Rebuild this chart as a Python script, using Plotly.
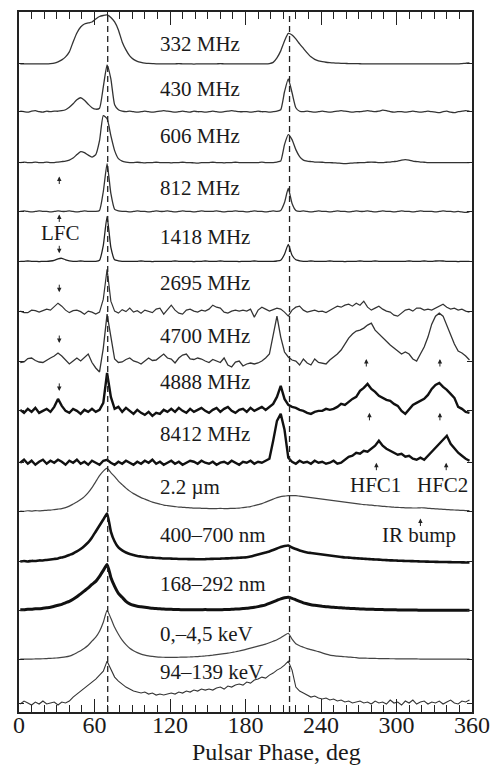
import plotly.graph_objects as go

# phase samples (deg)
phase = list(range(1, 360, 3))  # 1, 4, ..., 358  (120 samples)

# profile heights above each baseline (pixels of the original figure)
p332 = [0, 0, 0, 0, 0, 0, 0, 0, 0.3, 0.8,
        2, 4, 7, 12, 22, 31, 37, 40, 41, 42,
        45, 47.5, 48.5, 49, 46.5, 42, 34, 22, 14, 8,
        4.5, 2.5, 1.5, 0.8, 0.4, 0.2, 0, 0, 0, 0,
        0, 0, 0.2, 0, 0, 0, -0.2, 0, 0, 0,
        0, 0, 0, 0.2, 0, 0, 0, 0, 0, 0,
        0, 0, 0, 0, 0, 0, 0.3, 1.5, 6, 13,
        23, 30.5, 29, 25, 20, 15.5, 11, 7, 4.5, 3,
        2.2, 1.6, 1.2, 0.9, 0.7, 0.5, 0.4, 0.3, 0.2, 0.2,
        0.1, 0, 0, 0, 0, 0, 0, 0, 0, 0,
        0, 0, 0, 0, 0, 0, 0, 0, 0, 0,
        0, 0, 0, 0, 0, 0, 0, 0.3, 0.6, 1]
p430 = [0.5, 0, -0.5, 0.5, 1, 0, -0.5, 0.5, 0, 0.5,
        0.5, 1, 2, 4.5, 8, 12, 14, 11.5, 7.5, 4,
        2.5, 3.5, 25, 47, 33, 7, 2, 0.5, 0, 0.5,
        0, -0.5, 0, 0.5, 0, -0.5, 0, 0.5, 1, 0.5,
        0, -0.5, 0, 0.5, 0, -0.5, 0.5, 0, 0, -0.5,
        0, 0.5, 0, -0.5, 0, 0.5, 1, 0.5, 0, 0,
        0, -0.5, 0, 0.5, 0, 0, -0.5, 0, 0.5, 2,
        20, 33, 19, 4, 0.5, 0, 0.5, 0, -0.5, 0,
        0.5, 0, -0.5, 0, 0.5, 1, 0.5, 0, -0.5, 0,
        0, 0.5, 1, 0.5, 0, 0.5, 1.5, 1, 0, -0.5,
        0, 0, -0.5, 0, 0.5, 0, -0.5, 0, 0.5, 0,
        -0.5, -1, 0, 0.5, -0.5, -1, 0, 0.5, 1, 0.5]
p606 = [0, 0.5, 0, 0, 0.5, 0, 0, 0.5, 0, 0,
        0.5, 1, 1.5, 2.5, 4.5, 8, 11, 10, 7.5, 5.5,
        8, 22, 47, 44, 27, 12, 4, 1.5, 0.5, 0,
        0, 0.3, 0, -0.3, 0, 0, 0.3, 0, 0, 0,
        -0.3, 0, 0, 0.3, 0, 0, -0.3, -0.5, 0, 0,
        0, 0.3, 0, 0, -0.3, 0, 0, 0.3, 0, 0,
        0, 0, 0, 0, 0.5, 0, 0, 0, 0.5, 1.5,
        18, 28, 23, 13, 6, 2.5, 1.5, 1, 0.5, 0.5,
        0.3, 0, 0, -0.3, -0.5, -0.8, -1, -0.8, -0.5, -0.3,
        0, 0, 0.3, 0.5, 0.3, 0, 0, 0.3, 0.5, 1,
        1.5, 2.5, 3, 2.5, 1.5, 1, 0.5, 0.3, 0, 0,
        0, 0, 0, 0, 0, 0, 0, 0, 0, 0]
p812 = [0, 0.5, 0, -0.5, 0, 0.5, 0, 0, -0.5, 0,
        0.5, 0, 0, 0.5, 0, -0.5, 0, 0.5, 0, 0,
        0, 1, 20, 48, 18, 2, 0.5, 0, 0, -0.5,
        0, 0.5, 0, 0, -0.5, 0, 0.5, 0, 0, 0.5,
        0, -0.5, 0, 0.5, 0, 0, -0.5, 0, 0.5, 0,
        0, 0, 0.5, 0, -0.5, 0, 0, 0.5, 0, 0,
        -0.5, 0, 0.5, 0, 0, -0.5, 0, 0.5, 0, 1,
        9, 23, 8, 1, 0, 0.5, 0, -0.5, 0, 0.5,
        0, 0, -0.5, 0, 0.5, 0, 0, -0.5, 0, 0.5,
        0, 0, 0.5, 0, -0.5, 0, 0.5, 0, 0, -0.5,
        0, 0.5, 0, 0, -0.5, 0, 0.5, 0, 0, 0,
        -0.5, 0, 0.5, 0, 0, -0.5, 0, -0.5, -1, -0.5]
p1418 = [0, 0, 0.3, 0, 0, -0.3, 0, 0, 0.3, 1,
         2.5, 3, 1.5, 0.5, 0, 0, 0.3, 0, 0, 0,
         0, 1, 16, 45, 14, 1.5, 0.5, 0, 0, 0,
         0, 0, 0.3, 0, 0, -0.3, 0, 0, 0, 0,
         0, 0.3, 0, 0, 0, 0, -0.3, 0, 0, 0.3,
         0, 0, 0, 0.3, 0, 0, 0, 0, -0.3, 0,
         0, 0, 0.3, 0, 0, 0, 0, 0, 0.3, 1,
         7, 17, 6, 1.5, 0.5, 0, 0, 0.3, 0, 0,
         0, 0, 0.3, 0, 0, 0, -0.3, 0, 0, 0,
         0.3, 0, 0, 0, 0.3, 0, 0, 0, 0, 0,
         0, 0, 0, 0.3, 0, 0, 0, 0.3, 0, 0,
         0.3, 0.5, 0.3, 0, 0, 0, -0.3, 0, 0, 0]
p2695 = [0, -1.5, -1.5, 1, 0.5, -1, 0.5, 2, 1, 5,
         8, 5, 1, -1.5, 0.5, 1, -0.5, -3, 0, -1,
         -3, -1, 12, 42, 10, 0, -2, 1.5, -0.5, 3,
         -1, 0.5, -2, 1, 0, -1.5, 2, 3, -3, 2,
         6, 1, -2, -3, 1, 2, 0, -1, 1, 0,
         2, 6, 4, 3, -1, -2, 0, 1, 0, 1,
         0, 2, -6, 1, 4, 2, 0, 1.5, 3, 2,
         -1, -5, 1, 4, 5, 1, -1, 0, 1, -0.5,
         0, -1.5, 1, 3, 5, 4, 6, 7, 5, 8,
         6, 10, 4, 1, 3, 5, 2, 0, -1, -4,
         -5, -2, 1, 2, 0, 3, 3, 1, 2, 1,
         3, 5, 7, 4, 2, 3, 1, 2, 0, -1]
p4700 = [-1.5, -1, 2.5, 3, 0.5, -1, -1.5, 1, 3, 5,
         8, 5, 1, -3, 0, 3, 0, 4, 7, -1.5,
         -7, -11, 13, 47, 22, 2, -1.5, -1, 1.5, 3,
         0, -1, -3, 0, 3, 0.5, 1, 4, 7, 3,
         2, -2, 3, 6, 7, 2, 1.5, 3, 2, 0,
         -1.5, 1.5, 0, -1.5, 3, -4, -6, -1, 0, -5,
         -3, -2, -3, -2, 0, 3, 7, 25, 45, 24,
         9, 4, 1, 0, -4, 2, -2, -4, 2, -1.5,
         -2, -3, 1, 4, 7, 11, 17, 23, 27, 30,
         31, 33, 36, 38, 31, 27, 23, 19, 16, 13,
         10, 7, 9, 7, 2, 0, 7, 14, 24, 37,
         45, 48, 45, 36, 26, 17, 10, 8, 5, 1]
p4888 = [1, -2, 2, -1, 3, -2, 0, 2, -1, 4,
         12, 5, 0, -2, 2, 0, -3, 1, -1, 2,
         -1, 1, 8, 38, 14, 2, 4, -1, 3, 0,
         -3, 1, -2, -4, -1, -5, -2, -3, 1, -1,
         2, -1, 3, 0, -2, 2, -1, 1, 3, 0,
         -2, 1, 3, -1, 2, 4, 0, -2, 1, 2,
         -1, 3, 0, 2, 4, 1, 4, 7, 14, 25,
         12, 6, 4, 3, 1, 0, -2, -3, -1, 0,
         0, 2, 1, 2, 4, 7, 6, 9, 12, 14,
         20, 23, 27, 22, 19, 15, 13, 11, 10, 7,
         5, 0, -3, 2, 6, 8, 10, 12, 16, 22,
         26, 28, 24, 21, 17, 13, 4, 2, -1, -2]
p8412 = [0, 3, -1, 2, -2, 1, 3, -1, 2, 0,
         3, 1, -2, 2, 0, 3, -1, 1, -2, 2,
         0, -2, 2, 3, 0, -2, 1, -1, 2, 0,
         -2, 1, -1, 2, 0, 3, -1, 1, -2, 0,
         2, -1, 1, -2, 0, 2, 1, -1, 2, 0,
         -1, 1, -2, 0, 1, -1, 2, 0, -2, 1,
         0, 2, -1, 1, 0, 2, 4, 22, 42, 49,
         33, 5, 1, -1, 2, 0, 1, -1, 2, 0,
         1, -1, 0, 2, -1, 0, 3, 6, 7, 10,
         9, 12, 11, 14, 17, 22, 17, 14, 12, 10,
         8, 9, 6, 7, 4, 3, 5, 3, 7, 11,
         16, 20, 23, 27, 19, 14, 10, 7, 4, 2]
p2um = [0.5, 0.3, 0.8, 0.5, 1, 0.7, 1, 1.3, 1.5, 2,
        2.5, 3, 4, 5.5, 7.5, 9.5, 12, 15, 19, 24,
        30, 36, 40.5, 43.5, 39, 35, 30.5, 27, 23.5, 20.5,
        18, 16, 14, 12.5, 11, 9.5, 8.5, 7.5, 6.5, 6,
        5.5, 5, 4.5, 4.3, 4, 3.8, 3.5, 3.5, 3.3, 3.2,
        3, 3, 3, 3.2, 3, 3, 3.2, 3.3, 3.5, 4,
        4.5, 5, 6, 7, 8, 9.5, 11, 12.5, 14, 15,
        15.5, 16, 16, 16, 15.5, 15, 14.5, 14, 13.5, 13,
        12.5, 12, 11.5, 11, 10.5, 10, 9.5, 9, 8.5, 8,
        7.5, 7, 6.8, 6.5, 6, 5.7, 5.3, 5, 4.7, 4.4,
        4.2, 4, 3.8, 3.7, 3.6, 3.6, 3.8, 3.7, 3.3, 3,
        2.8, 2.5, 2.3, 2, 1.8, 1.6, 1.4, 1.2, 1, 1]
p400_700 = [0, 0.5, 0, 0.5, 0.5, 1, 1, 1.5, 2, 2.5,
            3, 4, 5, 6.5, 8, 10, 12.5, 15.5, 19, 24,
            30, 36, 42, 48, 30, 20, 14, 11, 9, 7.5,
            6.5, 5.5, 5, 4.5, 4, 3.8, 3.5, 3.3, 3, 3,
            2.8, 2.7, 2.5, 2.5, 2.4, 2.3, 2.3, 2.2, 2.2, 2.3,
            2.5, 2.6, 2.7, 2.8, 3, 3.1, 3.3, 3.5, 3.7, 3.9,
            4.2, 5, 6, 7, 8, 9, 10, 11.5, 13, 14.5,
            15.5, 16, 14, 12.5, 11, 10, 9, 8.5, 8, 7.5,
            7, 6.5, 6, 5.5, 5, 4.5, 4, 3.8, 3.5, 3.2,
            3, 2.7, 2.5, 2.2, 2, 1.8, 1.5, 1.3, 1.1, 1,
            0.8, 0.7, 0.5, 0.4, 0.3, 0.2, 0, -0.1, -0.2, -0.3,
            -0.4, -0.5, -0.5, -0.6, -0.7, -0.8, -0.8, -0.9, -1, -1]
p168_292 = [0.5, 0.5, 1, 1, 1.5, 1.5, 2, 2.5, 3, 4,
            5, 6, 7.5, 9, 11, 13.5, 16.5, 19.5, 22.5, 26,
            29, 34, 40, 46, 33, 24, 17, 13, 9, 6.5,
            5, 4, 3.5, 3, 2.5, 2, 1.8, 1.5, 1.2, 1,
            1, 0.8, 0.7, 0.6, 0.5, 0.5, 0.5, 0.6, 0.6, 0.7,
            0.5, 0.5, 0.5, 0.6, 0.7, 0.8, 1, 1.2, 1.4, 1.7,
            2, 2.5, 3, 3.7, 4.5, 5.5, 7, 8.5, 10, 11.5,
            12.5, 13, 12, 10.5, 9, 7.5, 6.5, 5.5, 5, 4.5,
            4, 3.6, 3.3, 3, 2.7, 2.5, 2.2, 2, 1.8, 1.6,
            1.4, 1.2, 1.1, 1, 0.9, 0.8, 0.7, 0.6, 0.5, 0.5,
            0.4, 0.4, 0.3, 0.3, 0.2, 0.2, 0.1, 0.1, 0, 0,
            0, 0, 0, 0, 0, 0, 0, 0, 0, 0]
p0_45kev = [0, 0, 0, 0, 0.2, 0.3, 0.4, 0.6, 0.8, 1,
            1.3, 1.7, 2.2, 3, 4.5, 6.5, 8.5, 11, 14, 18,
            22, 28, 37, 49, 41, 32, 25, 19, 14.5, 11,
            8.5, 6.5, 5, 4, 3.2, 2.7, 2.3, 2, 1.9, 1.8,
            1.8, 1.8, 1.9, 2, 2.1, 2.2, 2.4, 2.6, 2.9, 3.2,
            3.6, 4, 4.5, 5, 5.5, 6, 6.7, 7.4, 8.2, 9,
            10, 11, 12, 13, 14, 15, 16.5, 18, 19.5, 21.5,
            24, 26, 20, 15.5, 13.5, 12, 10.5, 9.5, 8.5, 7.5,
            6.3, 5, 4, 3.5, 3, 2.7, 2.4, 2.1, 1.8, 1.5,
            1.1, 1, 0.9, 0.8, 0.7, 0.6, 0.5, 0.5, 0.4, 0.4,
            0.3, 0.3, 0.3, 0.2, 0.2, 0.2, 0.1, 0.1, 0.1, 0.1,
            0, 0, 0, 0, 0, 0, 0, 0, 0, 0]
p94_139kev = [-1, 2, 0, -2, 1, -1, 2, -1, 0, 1,
              -2, 1, 0, 2, 6, 9, 12, 15, 18, 21,
              24, 28, 32, 42, 34, 26, 22, 19, 16, 14,
              12, 11, 10, 11, 9, 10, 8, 9, 8, 9,
              10, 9, 11, 10, 12, 11, 13, 12, 14, 13,
              14, 13, 15, 16, 14, 17, 16, 18, 19, 18,
              21, 20, 23, 24, 26, 25, 28, 30, 33, 35,
              38, 42, 33, 16, 12, 10, 8, 6, 7, 5,
              4, 5, 3, 4, 2, 3, 1, 2, 0, 1,
              2, 0, 1, -1, 2, 0, 1, -1, 3, 0,
              1, -2, 2, 0, 3, -1, 1, 2, -1, 1,
              0, 2, -1, 1, 3, 0, -1, 2, 1, 3]

labels = ["332 MHz", "430 MHz", "606 MHz", "812 MHz", "1418 MHz", "2695 MHz",
          "4700 MHz", "4888 MHz", "8412 MHz", "2.2 µm", "400–700 nm",
          "168–292 nm", "0,–4,5 keV", "94–139 keV"]
profiles = [p332, p430, p606, p812, p1418, p2695, p4700, p4888, p8412,
            p2um, p400_700, p168_292, p0_45kev, p94_139kev]

# layout: baseline of every profile (plot pixel rows), label rows, styles
baselines = [62, 110, 161, 210, 260, 310, 360, 410, 462, 511, 561, 610, 659, 703]
label_rows = [42, 87.5, 134, 186.5, 236, 281.5, 335, 381.5, 433.5, 486, 534, 584, 634, 671.5]
styles = [("#333333", 1.3, "spline"), ("#333333", 1.3, "spline"), ("#333333", 1.3, "spline"),
          ("#333333", 1.3, "spline"), ("#222222", 1.3, "spline"), ("#333333", 1.2, "linear"),
          ("#333333", 1.3, "linear"), ("#111111", 2.4, "linear"), ("#111111", 2.4, "linear"),
          ("#444444", 1.2, "spline"), ("#111111", 2.6, "spline"), ("#111111", 3.0, "spline"),
          ("#444444", 1.2, "spline"), ("#333333", 1.1, "linear")]

for p in profiles:
    assert len(p) == len(phase)

fig = go.Figure()
for vals, base, (col, w, shp) in zip(profiles, baselines, styles):
    fig.add_trace(go.Scatter(
        x=phase, y=[base - v for v in vals], mode="lines",
        line=dict(color=col, width=w, shape=shp, smoothing=0.5),
        hoverinfo="skip", showlegend=False))

serif = "Liberation Serif, Times New Roman, serif"
ann = []
for txt, yy in zip(labels, label_rows):
    ann.append(dict(x=110.5, y=yy, xref="x", yref="y", text=txt, showarrow=False,
                    xanchor="left", yanchor="middle",
                    font=dict(family=serif, size=21, color="#1a1a1a")))
for txt, xx, yy in [("LFC", 33, 231.5), ("HFC1", 283.4, 484), ("HFC2", 336.7, 484),
                    ("IR bump", 318, 534)]:
    ann.append(dict(x=xx, y=yy, xref="x", yref="y", text=txt, showarrow=False,
                    xanchor="center", yanchor="middle",
                    font=dict(family=serif, size=21, color="#1a1a1a")))

arrows = [(32, 175, "up"), (32, 213, "up"), (32, 252, "down"), (32, 291, "down"),
          (32, 342, "down"), (32, 390, "down"), (276, 358, "up"), (334.5, 358, "up"),
          (278.5, 412, "up"), (334.5, 412, "up"), (284, 462, "up"), (339.5, 462, "up"),
          (319, 518, "up")]
for xx, yy, d in arrows:
    ann.append(dict(x=xx, y=yy, xref="x", yref="y", text="", showarrow=True,
                    ax=0, ay=(9 if d == "up" else -9), axref="pixel", ayref="pixel",
                    arrowhead=2, arrowsize=0.9, arrowwidth=1, arrowcolor="#222222",
                    standoff=0, startstandoff=0))

ann.append(dict(x=205, y=-0.078, xref="x", yref="paper", text="Pulsar Phase, deg",
                showarrow=False, xanchor="center", yanchor="bottom",
                font=dict(family=serif, size=24, color="#1a1a1a")))

shapes = []
for xd in (70.5, 215):
    shapes.append(dict(type="line", x0=xd, x1=xd, y0=0, y1=1, xref="x", yref="paper",
                       line=dict(color="#222222", width=1.3, dash="6px,4px")))

fig.update_layout(
    width=500, height=767, margin=dict(l=19, r=22, t=10, b=55),
    paper_bgcolor="white", plot_bgcolor="white",
    annotations=ann, shapes=shapes,
    xaxis=dict(range=[0, 360], tickvals=[0, 60, 120, 180, 240, 300, 360],
               ticks="inside", ticklen=13, tickwidth=1.2, tickcolor="#222222",
               minor=dict(dtick=10, ticks="inside", ticklen=7, tickwidth=1.1,
                          tickcolor="#222222", showgrid=False),
               showline=True, linecolor="#222222", linewidth=1.5, mirror="ticks",
               showgrid=False, zeroline=False, ticklabelstandoff=-10,
               tickfont=dict(family=serif, size=24, color="#1a1a1a")),
    yaxis=dict(range=[712, 10], tickvals=baselines, ticks="inside", ticklen=5,
               tickwidth=1.2, tickcolor="#222222", showticklabels=False,
               showline=True, linecolor="#222222", linewidth=1.5, mirror="ticks",
               showgrid=False, zeroline=False),
)

fig.write_html("out.html", config={"displayModeBar": False},
               post_script="document.body.style.margin='0px';"
                           "document.body.style.overflow='hidden';")
